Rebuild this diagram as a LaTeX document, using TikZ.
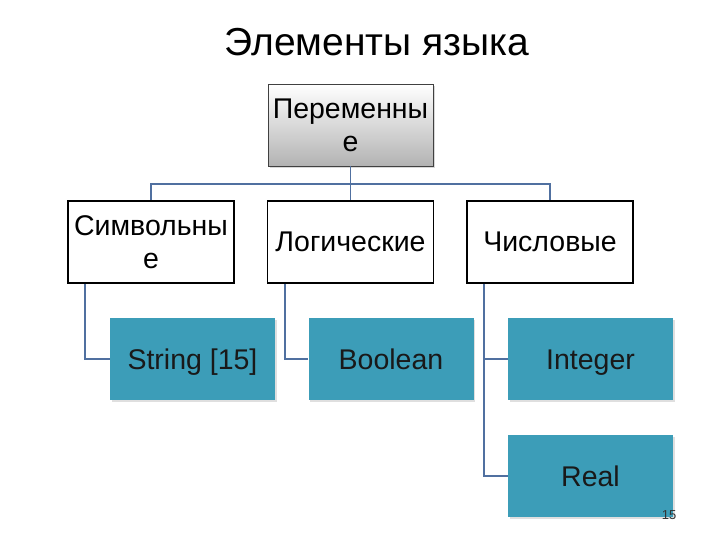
\documentclass[tikz,border=0pt]{standalone}
\usepackage{fontspec}
\setmainfont{Liberation Sans}
\usetikzlibrary{shadows}
\definecolor{teal1}{RGB}{60,157,184}
\definecolor{linec}{RGB}{80,112,160}
\begin{document}
\begin{tikzpicture}[x=1pt,y=-1pt,
  boxfont/.style={font=\fontsize{28.5}{33}\selectfont},
  topbox/.style={draw=black!75,line width=0.8pt,top color=white,bottom color=black!30,
    minimum width=165pt,minimum height=82pt,inner sep=1pt,align=center,boxfont,
    drop shadow={shadow xshift=2pt,shadow yshift=-2pt,opacity=0.3}},
  midbox/.style={draw=black,line width=1.6pt,fill=white,
    minimum width=166pt,minimum height=82pt,inner sep=1pt,align=center,boxfont},
  leafbox/.style={fill=teal1,minimum width=165pt,minimum height=82pt,inner sep=1pt,
    boxfont,text=black!90,text height=22pt,text depth=2pt,
    drop shadow={shadow xshift=1.5pt,shadow yshift=-1.5pt,opacity=0.25}},
  conn/.style={draw=linec,line width=1.8pt}]
\useasboundingbox (0,0) rectangle (720,540);
\fill[white] (0,0) rectangle (720,540);
\node (title) at (377,42) {\fontsize{39}{45}\selectfont Элементы языка};
\node[topbox] (top) at (350.5,125) {Переменны\\е};
\node[midbox] (sym) at (151,242) {Символьны\\е};
\node[midbox] (log) at (350.5,242) {Логические};
\node[midbox] (num) at (550,242) {Числовые};
\node[leafbox] (str) at (192.5,359) {String [15]};
\node[leafbox] (bool) at (391,359) {Boolean};
\node[leafbox] (int) at (590.5,359) {Integer};
\node[leafbox] (real) at (590.5,476) {Real};
\coordinate (bus) at (350.5,184);
\draw[conn] (top.south) -- (bus) -| (sym.north);
\draw[conn] (bus) -| (num.north);
\draw[conn] (bus) -- (log.north);
\draw[conn] ([xshift=18pt]sym.south west) |- (str.west);
\draw[conn] ([xshift=18pt]log.south west) |- (bool.west);
\draw[conn] ([xshift=18pt]num.south west) |- (int.west);
\draw[conn] ([xshift=18pt]num.south west) |- (real.west);
\node[font=\fontsize{13}{15}\selectfont,text=black!80] (pg) at (669,515) {15};
\end{tikzpicture}
\end{document}
